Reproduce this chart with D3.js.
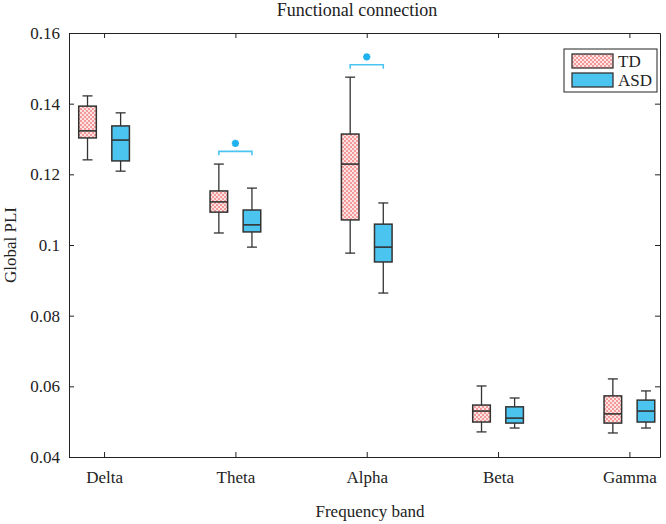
<!DOCTYPE html>
<html lang="en">
<head>
    <meta charset="UTF-8">
    <title>Functional connection</title>
    <script src="https://d3js.org/d3.v7.min.js"></script>
    <style>
        body { margin: 0; background: #fff; }
        text { font-family: "Liberation Serif", "Times New Roman", serif; fill: #222; }
    </style>
</head>
<body>
    <script>
        // bands and groups
        const bands = ["Delta", "Theta", "Alpha", "Beta", "Gamma"];
        const groups = ["TD", "ASD"];
        const yTicks = [0.04, 0.06, 0.08, 0.1, 0.12, 0.14, 0.16];

        // [whiskerLow, q1, median, q3, whiskerHigh] per band
        const tdStats = [
            [0.1241, 0.1303, 0.1323, 0.1393, 0.1422],
            [0.1034, 0.1093, 0.1122, 0.1153, 0.1229],
            [0.0977, 0.1071, 0.1229, 0.1314, 0.1475],
            [0.0471, 0.0499, 0.0530, 0.0547, 0.0601],
            [0.0468, 0.0496, 0.0522, 0.0573, 0.0621]
        ];
        const asdStats = [
            [0.1209, 0.1238, 0.1297, 0.1337, 0.1374],
            [0.0994, 0.1037, 0.1057, 0.1099, 0.1161],
            [0.0864, 0.0952, 0.0994, 0.1059, 0.1119],
            [0.0482, 0.0496, 0.0510, 0.0542, 0.0567],
            [0.0482, 0.0499, 0.0530, 0.0561, 0.0587]
        ];
        // significance markers: band index and bracket height
        const sigBands = [1, 2];
        const sigLevels = [0.1265, 0.1510];

        const width = 666, height = 524;
        const margin = {top: 33, right: 6, bottom: 67, left: 69};

        const svg = d3.select("body").append("svg")
            .attr("width", width)
            .attr("height", height);

        const defs = svg.append("defs");
        const pat = defs.append("pattern")
            .attr("id", "checks")
            .attr("width", 4).attr("height", 4)
            .attr("patternUnits", "userSpaceOnUse");
        pat.append("rect").attr("width", 4).attr("height", 4).attr("fill", "#fde3e3");
        pat.append("rect").attr("width", 2).attr("height", 2).attr("fill", "#f29a9a");
        pat.append("rect").attr("x", 2).attr("y", 2).attr("width", 2).attr("height", 2).attr("fill", "#f29a9a");

        const x = d3.scaleLinear()
            .domain([0.733, 5.233])
            .range([margin.left, width - margin.right]);
        const y = d3.scaleLinear()
            .domain([0.04, 0.16])
            .range([height - margin.bottom, margin.top]);

        const x0 = x.range()[0], x1 = x.range()[1];
        const y0 = y.range()[0], y1 = y.range()[1];

        // axes, MATLAB style box with inward ticks
        const tickPos = bands.map((d, i) => i + 1);
        svg.append("g")
            .attr("transform", `translate(0,${y0})`)
            .call(d3.axisBottom(x).tickValues(tickPos).tickFormat((d, i) => bands[i])
                .tickSizeInner(-5).tickSizeOuter(0).tickPadding(14))
            .call(g => g.selectAll("text").attr("font-size", 17));
        svg.append("g")
            .attr("transform", `translate(0,${y1})`)
            .call(d3.axisTop(x).tickValues(tickPos).tickFormat("")
                .tickSizeInner(-5).tickSizeOuter(0));
        svg.append("g")
            .attr("transform", `translate(${x0},0)`)
            .call(d3.axisLeft(y).tickValues(yTicks).tickFormat(d3.format("~g"))
                .tickSizeInner(-5).tickSizeOuter(0).tickPadding(9))
            .call(g => g.selectAll("text").attr("font-size", 17));
        svg.append("g")
            .attr("transform", `translate(${x1},0)`)
            .call(d3.axisRight(y).tickValues(yTicks).tickFormat("")
                .tickSizeInner(-5).tickSizeOuter(0));
        svg.selectAll(".domain, .tick line").attr("stroke", "#222");

        svg.append("text")
            .attr("x", 357).attr("y", 16)
            .attr("text-anchor", "middle").attr("font-size", 18)
            .text("Functional connection");
        svg.append("text")
            .attr("x", 370).attr("y", 517)
            .attr("text-anchor", "middle").attr("font-size", 17)
            .text("Frequency band");
        svg.append("text")
            .attr("transform", `translate(16,${(y0 + y1) / 2}) rotate(-90)`)
            .attr("text-anchor", "middle").attr("font-size", 17)
            .text("Global PLI");

        // boxes
        const offset = 0.126, boxW = 0.134, capW = 0.038;
        const series = [
            {stats: tdStats, fill: "url(#checks)", shift: -offset},
            {stats: asdStats, fill: "#4cc4f0", shift: offset}
        ];
        series.forEach(s => {
            const g = svg.append("g");
            s.stats.forEach((st, i) => {
                const c = i + 1 + s.shift;
                const [lo, q1, med, q3, hi] = st;
                const line = (xa, ya, xb, yb) => g.append("line")
                    .attr("x1", x(xa)).attr("y1", y(ya))
                    .attr("x2", x(xb)).attr("y2", y(yb))
                    .attr("stroke", "#333").attr("stroke-width", 1.3);
                line(c, hi, c, q3);
                line(c, q1, c, lo);
                line(c - capW, hi, c + capW, hi);
                line(c - capW, lo, c + capW, lo);
                g.append("rect")
                    .attr("x", x(c - boxW / 2))
                    .attr("y", y(q3))
                    .attr("width", x(c + boxW / 2) - x(c - boxW / 2))
                    .attr("height", y(q1) - y(q3))
                    .attr("fill", s.fill)
                    .attr("stroke", "#333").attr("stroke-width", 1.5);
                line(c - boxW / 2, med, c + boxW / 2, med).attr("stroke-width", 1.6);
            });
        });

        // significance brackets with asterisk marker
        const r = 3.6, rd = 2.6;
        const starPath = `M0,${-r}V${r}M${-r},0H${r}M${-rd},${-rd}L${rd},${rd}M${-rd},${rd}L${rd},${-rd}`;
        sigBands.forEach((b, k) => {
            const lev = sigLevels[k];
            const xa = x(b + 1 - offset), xb = x(b + 1 + offset);
            const yl = y(lev);
            svg.append("path")
                .attr("d", `M${xa},${yl + 4}V${yl}H${xb}V${yl + 4}`)
                .attr("fill", "none").attr("stroke", "#4cc4f0").attr("stroke-width", 1.6);
            svg.append("path")
                .attr("d", starPath)
                .attr("transform", `translate(${(xa + xb) / 2},${yl - 8})`)
                .attr("fill", "none").attr("stroke", "#1fb2ee")
                .attr("stroke-width", 2.2);
        });

        // legend
        const leg = svg.append("g").attr("transform", "translate(564,49)");
        leg.append("rect").attr("width", 93).attr("height", 43)
            .attr("fill", "#fff").attr("stroke", "#222").attr("stroke-width", 1);
        groups.forEach((gName, i) => {
            leg.append("rect")
                .attr("x", 8).attr("y", 5 + i * 19)
                .attr("width", 41).attr("height", 14)
                .attr("fill", series[i].fill)
                .attr("stroke", "#333").attr("stroke-width", 1.3);
            leg.append("text")
                .attr("x", 54).attr("y", 18 + i * 19)
                .attr("font-size", 17)
                .text(gName);
        });
    </script>
</body>
</html>
